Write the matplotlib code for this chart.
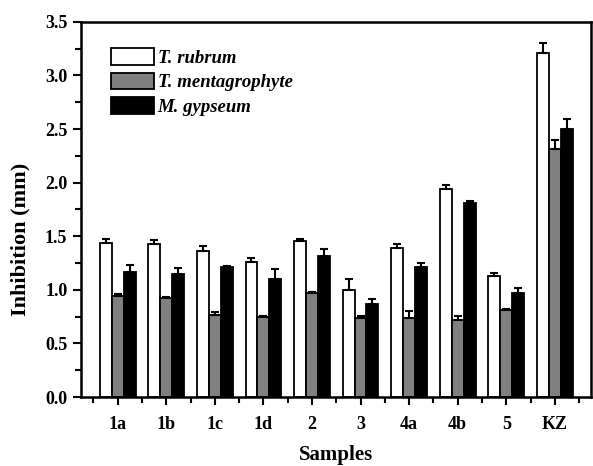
import matplotlib
matplotlib.use('Agg')
import matplotlib.pyplot as plt
import numpy as np
from matplotlib.ticker import MultipleLocator, FormatStrFormatter

plt.rcParams['font.family'] = ['Liberation Serif', 'DejaVu Serif']
plt.rcParams['font.weight'] = 'bold'

samples = ['1a', '1b', '1c', '1d', '2', '3', '4a', '4b', '5', 'KZ']
rubrum = [1.44, 1.43, 1.36, 1.26, 1.46, 1.00, 1.39, 1.94, 1.13, 3.21]
rubrum_err = [0.03, 0.035, 0.045, 0.035, 0.01, 0.10, 0.035, 0.035, 0.03, 0.09]
mentag = [0.94, 0.92, 0.77, 0.75, 0.97, 0.74, 0.74, 0.72, 0.81, 2.31]
mentag_err = [0.02, 0.01, 0.025, 0.005, 0.01, 0.02, 0.06, 0.04, 0.01, 0.09]
gypseum = [1.17, 1.15, 1.21, 1.10, 1.32, 0.87, 1.21, 1.81, 0.97, 2.50]
gypseum_err = [0.06, 0.05, 0.01, 0.09, 0.065, 0.045, 0.045, 0.02, 0.045, 0.09]

fig = plt.figure(figsize=(5.93, 4.66), dpi=100)
ax = fig.add_axes([0.137, 0.148, 0.86, 0.805])

x = np.arange(len(samples))
w = 0.245
series = [(rubrum, rubrum_err, 'white', 'T. rubrum'),
          (mentag, mentag_err, '#808080', 'T. mentagrophyte'),
          (gypseum, gypseum_err, 'black', 'M. gypseum')]
for i, (vals, errs, col, lab) in enumerate(series):
    pos = x + (i - 1) * w
    ax.bar(pos, vals, w, color=col, edgecolor='black', linewidth=1.3, label=lab, zorder=2)
    ax.errorbar(pos, vals, yerr=[np.zeros(len(errs)), errs], fmt='none',
                ecolor='black', elinewidth=1.5, capsize=3, capthick=1.5, zorder=3)

ax.set_xlim(-0.75, 9.75)
ax.set_ylim(0, 3.5)
ax.set_xticks(x)
ax.set_xticklabels(samples)
ax.xaxis.set_minor_locator(MultipleLocator(1, offset=0.5))
ax.yaxis.set_major_locator(MultipleLocator(0.5))
ax.yaxis.set_minor_locator(MultipleLocator(0.25))
ax.yaxis.set_major_formatter(FormatStrFormatter('%.1f'))

for s in ax.spines.values():
    s.set_linewidth(1.8)
ax.tick_params(axis='both', which='major', direction='out', length=6, width=1.5, labelsize=13)
ax.tick_params(axis='both', which='minor', direction='out', length=4, width=1.5)
ax.tick_params(axis='x', which='major', pad=8)
ax.tick_params(axis='y', which='major', pad=4)

ax.set_xlabel('Samples', fontsize=15, fontweight='bold', labelpad=8)
ax.set_ylabel('Inhibition (mm)', fontsize=16, fontweight='bold')
ax.yaxis.set_label_coords(-0.10, 0.42)

leg = ax.legend(loc='upper left', bbox_to_anchor=(0.025, 0.975), frameon=False,
                prop={'style': 'italic', 'weight': 'bold', 'size': 13.5},
                handlelength=2.3, handleheight=1.0, handletextpad=0.2, labelspacing=0.3)

fig.savefig('out.png', dpi=100)
